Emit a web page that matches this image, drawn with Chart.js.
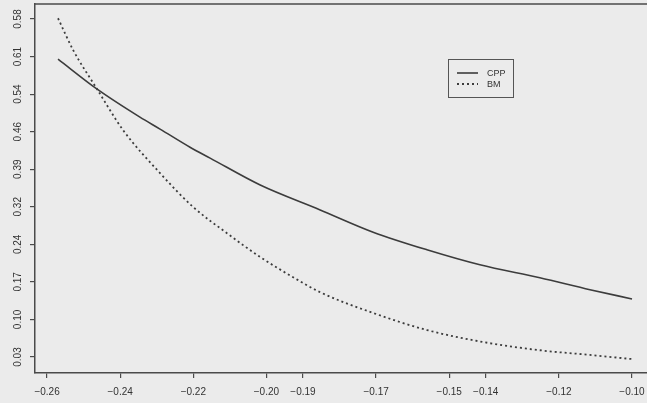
<!DOCTYPE html>
<html>
<head>
<meta charset="utf-8">
<script src="https://cdn.jsdelivr.net/npm/chart.js@4"></script>
<style>
  html, body { margin: 0; padding: 0; background: #ebebeb; }
  #wrap { width: 647px; height: 403px; }
</style>
</head>
<body>
<div id="wrap"><canvas id="c" width="647" height="403"></canvas></div>
<script>
// ---- data ----
const cppX = [-0.257, -0.2463, -0.2346, -0.2291, -0.2209, -0.2154, -0.2017, -0.1853, -0.1708, -0.1561, -0.1416, -0.1252, -0.1115, -0.1000];
const cppY = [0.605, 0.547, 0.493, 0.470, 0.435, 0.414, 0.362, 0.314, 0.271, 0.237, 0.208, 0.183, 0.160, 0.142];

const bmX = [-0.257, -0.2529, -0.2463, -0.2392, -0.2291, -0.2201, -0.2108, -0.2017, -0.1927, -0.1853, -0.1708, -0.1561, -0.1416, -0.1252, -0.1115, -0.1000];
const bmY = [0.684, 0.623, 0.547, 0.468, 0.385, 0.320, 0.269, 0.223, 0.184, 0.155, 0.115, 0.082, 0.060, 0.043, 0.034, 0.026];

const xTickValues = [-0.26, -0.24, -0.22, -0.20, -0.19, -0.17, -0.15, -0.14, -0.12, -0.10];
const xTickLabels = ["\u22120.26", "\u22120.24", "\u22120.22", "\u22120.20", "\u22120.19", "\u22120.17", "\u22120.15", "\u22120.14", "\u22120.12", "\u22120.10"];

const yTickValues = [0.03, 0.1025, 0.175, 0.2475, 0.32, 0.3925, 0.465, 0.5375, 0.61, 0.6825];
const yTickLabels = ["0.03", "0.10", "0.17", "0.24", "0.32", "0.39", "0.46", "0.54", "0.61", "0.58"];

const seriesNames = ["CPP", "BM"];

// ---- build ----
const toPts = (xs, ys) => xs.map((x, i) => ({ x: x, y: ys[i] }));
const AX = '#4a4a4a';
const TXT = '#333333';

const extras = {
  id: 'extras',
  afterDraw(chart) {
    const ctx = chart.ctx;
    const a = chart.chartArea;
    const ys = chart.scales.y;
    ctx.save();
    // top border of the box
    ctx.strokeStyle = AX;
    ctx.lineWidth = 1.5;
    ctx.beginPath();
    ctx.moveTo(a.left, a.top);
    ctx.lineTo(a.right, a.top);
    ctx.stroke();
    // rotated y tick labels
    ctx.fillStyle = TXT;
    ctx.font = '10px "Liberation Sans", Arial, sans-serif';
    ctx.textAlign = 'center';
    ctx.textBaseline = 'middle';
    ys.ticks.forEach((t, i) => {
      const py = ys.getPixelForValue(t.value);
      ctx.save();
      ctx.translate(18, py);
      ctx.rotate(-Math.PI / 2);
      ctx.fillText(yTickLabels[i], 0, 0);
      ctx.restore();
    });
    // legend box
    const lx = 448, ly = 59, lw = 65, lh = 38;
    ctx.strokeStyle = '#555555';
    ctx.lineWidth = 1;
    ctx.strokeRect(lx + 0.5, ly + 0.5, lw, lh);
    ctx.font = '9px "Liberation Sans", Arial, sans-serif';
    ctx.textAlign = 'left';
    chart.data.datasets.forEach((ds, i) => {
      const yy = ly + 14 + i * 11;
      ctx.strokeStyle = ds.borderColor;
      ctx.lineWidth = ds.borderWidth;
      ctx.setLineDash(ds.borderDash || []);
      ctx.beginPath();
      ctx.moveTo(lx + 9, yy);
      ctx.lineTo(lx + 30, yy);
      ctx.stroke();
      ctx.setLineDash([]);
      ctx.fillStyle = TXT;
      ctx.fillText(ds.label, lx + 39, yy + 0.5);
    });
    ctx.restore();
  }
};

new Chart(document.getElementById('c'), {
  type: 'line',
  data: {
    datasets: [
      {
        label: seriesNames[0],
        data: toPts(cppX, cppY),
        borderColor: '#3c3c3c',
        borderWidth: 1.6,
        pointRadius: 0,
        fill: false,
        cubicInterpolationMode: 'monotone'
      },
      {
        label: seriesNames[1],
        data: toPts(bmX, bmY),
        borderColor: '#3c3c3c',
        borderWidth: 1.8,
        borderDash: [2, 3],
        pointRadius: 0,
        fill: false,
        cubicInterpolationMode: 'monotone'
      }
    ]
  },
  options: {
    responsive: false,
    animation: false,
    layout: { padding: { top: 4, right: 0, left: 0, bottom: 0 } },
    plugins: { legend: { display: false }, tooltip: { enabled: false } },
    scales: {
      x: {
        type: 'linear',
        min: -0.2633,
        max: -0.0959,
        afterBuildTicks: s => { s.ticks = xTickValues.map(v => ({ value: v })); },
        afterFit: s => { s.height = 30; s.paddingRight = 0; s.paddingLeft = 0; },
        ticks: {
          autoSkip: false,
          maxRotation: 0,
          minRotation: 0,
          padding: 8,
          color: TXT,
          font: { family: '"Liberation Sans", Arial, sans-serif', size: 10 },
          callback: (v, i) => xTickLabels[i]
        },
        grid: { drawOnChartArea: false, drawTicks: true, tickLength: 5, color: AX, lineWidth: 1.2 },
        border: { display: true, color: AX, width: 1.5 }
      },
      y: {
        type: 'linear',
        min: -0.0009,
        max: 0.7115,
        afterBuildTicks: s => { s.ticks = yTickValues.map(v => ({ value: v })); },
        afterFit: s => { s.width = 35; s.paddingTop = 0; s.paddingBottom = 0; },
        ticks: {
          autoSkip: false,
          color: 'rgba(0,0,0,0)',
          font: { size: 10 },
          callback: (v, i) => yTickLabels[i]
        },
        grid: { drawOnChartArea: false, drawTicks: true, tickLength: 5, color: AX, lineWidth: 1.2 },
        border: { display: true, color: AX, width: 1.5 }
      }
    }
  },
  plugins: [extras]
});
</script>
</body>
</html>
